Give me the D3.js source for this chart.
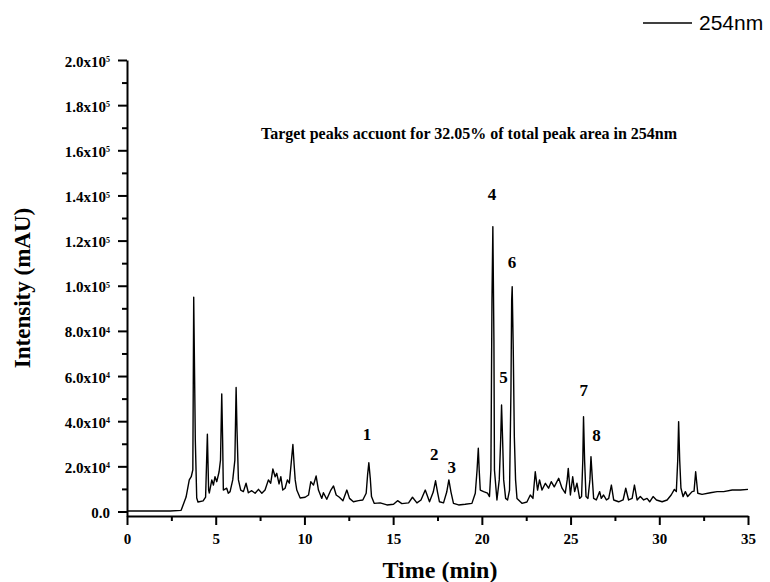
<!DOCTYPE html>
<html>
<head>
<meta charset="utf-8">
<script src="https://d3js.org/d3.v7.min.js"></script>
<style>
body { margin: 0; background: #fff; }
.axis path, .axis line { stroke: #000; stroke-width: 2; }
.axis text { font-family: "Liberation Serif", "Times New Roman", serif; font-weight: bold; font-size: 15px; fill: #000; }
.serif { font-family: "Liberation Serif", "Times New Roman", serif; font-weight: bold; fill: #000; }
</style>
</head>
<body>
<script>
// Chromatogram at 254nm: [time (min), intensity (mAU)]
var trace254 = [
  [0,200],[1.30,200],[2.43,200],[3.05,500],[3.33,6400],[3.51,14000],[3.62,15400],[3.71,18400],
  [3.76,94900],[3.85,31700],[3.93,6000],[4.00,4200],[4.29,4700],[4.43,6400],[4.53,34200],[4.60,9500],
  [4.64,8200],[4.78,14000],[4.87,11700],[4.96,15400],[5.06,13200],[5.19,17600],[5.27,22800],[5.34,52100],
  [5.39,31700],[5.43,9500],[5.62,10300],[5.71,8100],[5.81,8800],[5.96,14000],[6.08,22800],[6.15,54900],
  [6.20,36100],[6.28,14000],[6.41,9500],[6.56,8800],[6.71,12500],[6.84,8300],[7.03,9200],[7.22,8100],
  [7.41,9800],[7.60,8100],[7.78,9500],[7.97,14000],[8.10,12500],[8.22,18800],[8.35,15400],[8.44,16900],
  [8.57,12200],[8.67,15400],[8.78,9500],[8.91,10300],[9.04,14000],[9.15,12500],[9.27,22800],[9.35,29700],
  [9.42,20600],[9.48,14000],[9.57,9500],[9.76,6000],[10.04,6300],[10.23,7300],[10.36,13200],[10.51,11700],
  [10.66,15700],[10.79,9500],[10.98,5800],[11.07,8300],[11.26,5400],[11.49,9500],[11.64,11300],[11.79,7300],
  [11.97,6300],[12.17,4800],[12.39,9500],[12.54,5800],[12.76,4300],[13.05,4800],[13.29,5100],[13.48,8100],
  [13.56,16200],[13.63,21600],[13.71,14800],[13.78,6600],[13.93,3600],[14.27,3800],[14.65,2900],[15.02,3200],
  [15.25,4800],[15.49,3500],[15.87,3800],[16.09,6300],[16.34,3800],[16.57,5100],[16.81,9500],[17.05,4300],
  [17.26,8600],[17.39,13600],[17.50,8600],[17.61,4300],[17.84,3800],[18.02,8600],[18.14,14000],[18.26,8600],
  [18.40,3600],[18.69,2900],[19.06,3200],[19.44,3600],[19.63,8100],[19.73,18400],[19.80,28000],[19.85,18400],
  [19.91,9500],[20.10,8800],[20.32,8100],[20.43,6600],[20.51,18400],[20.57,93700],[20.62,126200],[20.68,76000],
  [20.71,18400],[20.85,5100],[20.98,14000],[21.06,31700],[21.11,47200],[21.17,31700],[21.23,14000],[21.34,5800],
  [21.45,5100],[21.56,9500],[21.64,53800],[21.68,93700],[21.71,99600],[21.77,71600],[21.83,33100],[21.90,14000],
  [21.98,5800],[22.26,3600],[22.54,4200],[22.73,7300],[22.88,5800],[23.01,17600],[23.14,9500],[23.25,14000],
  [23.39,9500],[23.58,12500],[23.76,10300],[23.91,13200],[24.08,10900],[24.33,14700],[24.52,10300],[24.70,8100],
  [24.81,14000],[24.87,19100],[24.99,7300],[25.12,15400],[25.23,8800],[25.36,12500],[25.51,5800],[25.62,6600],
  [25.69,22800],[25.73,42000],[25.79,22800],[25.87,6600],[25.98,5800],[26.09,14000],[26.15,24300],[26.23,14000],
  [26.30,5800],[26.45,5100],[26.64,8800],[26.73,5800],[26.86,7300],[27.02,5100],[27.15,5800],[27.30,11700],
  [27.43,5100],[27.71,4300],[27.96,5100],[28.11,10300],[28.27,5100],[28.47,5800],[28.60,11700],[28.75,5100],
  [28.93,6600],[29.12,5100],[29.31,5800],[29.46,4300],[29.65,6600],[29.84,5100],[30.16,4300],[30.44,5100],
  [30.67,7300],[30.85,9800],[30.96,8800],[31.04,22800],[31.09,39800],[31.15,22800],[31.22,10400],[31.34,6600],
  [31.47,8800],[31.60,6600],[31.85,8800],[31.96,9000],[32.05,17600],[32.17,8100],[32.41,7600],[32.88,8300],
  [33.26,8800],[33.63,8800],[34.11,9500],[34.57,9500],[35.0,9800]
];

// Axis ticks
var xMajorTicks = [0, 5, 10, 15, 20, 25, 30, 35];
var xMinorTicks = [2.5, 7.5, 12.5, 17.5, 22.5, 27.5, 32.5];
var yMajorTicks = [0, 20000, 40000, 60000, 80000, 100000, 120000, 140000, 160000, 180000, 200000];
var yMinorTicks = [10000, 30000, 50000, 70000, 90000, 110000, 130000, 150000, 170000, 190000];

// Target peak labels: name, time, label height
var peakNames = ["1", "2", "3", "4", "5", "6", "7", "8"];
var peakTimes = [13.52, 17.32, 18.31, 20.57, 21.22, 21.70, 25.74, 26.46];
var peakLabelY = [34300, 25500, 19700, 140700, 59600, 110500, 53800, 33900];

var noteText = "Target peaks accuont for 32.05% of total peak area in 254nm";
var legendText = "254nm";

var svgWidth = 770;
var svgHeight = 582;
var margin = {top: 60, right: 22, bottom: 66, left: 127};
var width = svgWidth - margin.left - margin.right;
var height = svgHeight - margin.top - margin.bottom;

var svg = d3.select("body")
  .append("svg")
  .attr("width", svgWidth)
  .attr("height", svgHeight);

var chartGroup = svg.append("g")
  .attr("transform", `translate(${margin.left}, ${margin.top})`);

var xScale = d3.scaleLinear().domain([0, 35]).range([0, width]);
var yScale = d3.scaleLinear().domain([-2000, 200000]).range([height, 0]);

// y tick label like 2.0x10^5
function sciLabel(sel) {
  sel.each(function(d) {
    var t = d3.select(this).text("").attr("dy", "0.4em");
    if (d === 0) { t.text("0.0"); return; }
    var e = Math.floor(Math.log10(d));
    var m = (d / Math.pow(10, e)).toFixed(1);
    t.append("tspan").text(m + "x10");
    t.append("tspan").attr("dy", "-0.55em").style("font-size", "8px").text(e);
  });
}

// axes
chartGroup.append("g")
  .attr("class", "axis")
  .attr("transform", `translate(0, ${height})`)
  .call(d3.axisBottom(xScale).tickValues(xMajorTicks).tickSize(9).tickSizeOuter(0).tickPadding(8).tickFormat(d3.format("d")));
chartGroup.append("g")
  .attr("class", "axis")
  .attr("transform", `translate(0, ${height})`)
  .call(d3.axisBottom(xScale).tickValues(xMinorTicks).tickSize(5).tickFormat(""))
  .select(".domain").remove();

var yAxisG = chartGroup.append("g")
  .attr("class", "axis")
  .call(d3.axisLeft(yScale).tickValues(yMajorTicks).tickSize(9).tickSizeOuter(0).tickPadding(8));
yAxisG.selectAll(".tick text").call(sciLabel);
chartGroup.append("g")
  .attr("class", "axis")
  .call(d3.axisLeft(yScale).tickValues(yMinorTicks).tickSize(5).tickFormat(""))
  .select(".domain").remove();

// trace
var line = d3.line()
  .x(d => xScale(d[0]))
  .y(d => yScale(d[1]));

chartGroup.append("path")
  .datum(trace254)
  .attr("fill", "none")
  .attr("stroke", "#000")
  .attr("stroke-width", 1.4)
  .attr("stroke-linejoin", "round")
  .attr("d", line);

// peak numbers
chartGroup.selectAll(".peak")
  .data(peakNames)
  .enter()
  .append("text")
  .attr("class", "serif peak")
  .attr("x", (d, i) => xScale(peakTimes[i]))
  .attr("y", (d, i) => yScale(peakLabelY[i]))
  .attr("dy", "0.35em")
  .attr("text-anchor", "middle")
  .style("font-size", "17px")
  .text(d => d);

// note
svg.append("text")
  .attr("class", "serif")
  .attr("x", 469)
  .attr("y", 139)
  .attr("text-anchor", "middle")
  .style("font-size", "16px")
  .text(noteText);

// axis titles
svg.append("text")
  .attr("class", "serif")
  .attr("x", 440)
  .attr("y", 578)
  .attr("text-anchor", "middle")
  .style("font-size", "24px")
  .text("Time (min)");

svg.append("text")
  .attr("class", "serif")
  .attr("transform", "rotate(-90)")
  .attr("x", -288)
  .attr("y", 30)
  .attr("text-anchor", "middle")
  .style("font-size", "23px")
  .text("Intensity (mAU)");

// legend
svg.append("line")
  .attr("x1", 643).attr("x2", 692)
  .attr("y1", 23).attr("y2", 23)
  .attr("stroke", "#000")
  .attr("stroke-width", 1.5);
svg.append("text")
  .attr("x", 699)
  .attr("y", 30)
  .style("font-family", "'Liberation Sans', Arial, sans-serif")
  .style("font-size", "21px")
  .text(legendText);
</script>
</body>
</html>
